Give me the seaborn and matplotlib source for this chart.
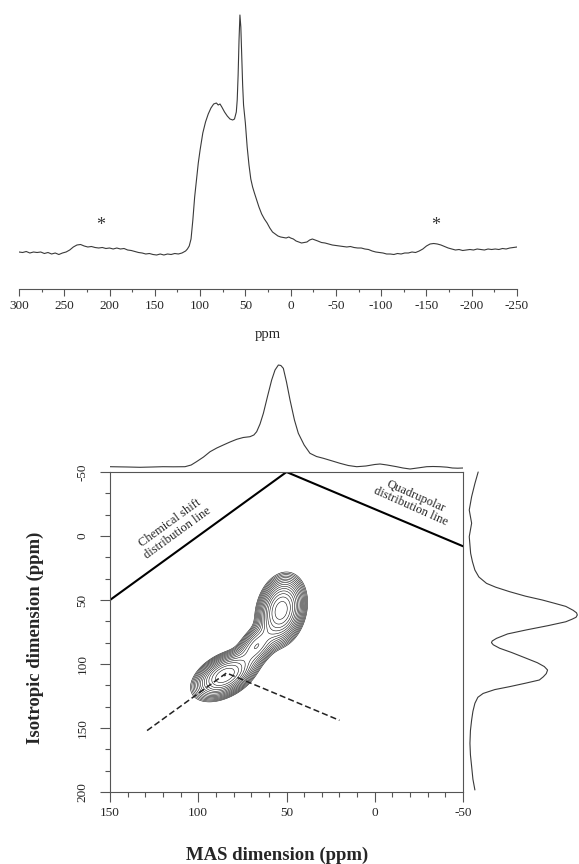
import numpy as np
import matplotlib
matplotlib.use("Agg")
import matplotlib.pyplot as plt
import seaborn as sns
from matplotlib.ticker import MultipleLocator

# ---------------- data ----------------
# 1D MAS spectrum (ppm, height above baseline in arbitrary units)
ppm_1d = [300, 296, 292, 288, 284, 280, 276, 272, 268, 264, 260, 256, 252, 248, 244,
          240, 236, 232, 228, 224, 220, 216, 212, 208, 204, 200, 196, 192, 188, 184,
          180, 176, 172, 168, 164, 160, 156, 152, 148, 144, 140, 136, 132, 128, 124,
          120, 116, 114, 112, 110, 108, 106, 104, 102, 100, 97, 94, 91, 88, 85, 82, 80,
          78, 76, 73, 70, 67, 64, 62, 60, 59, 58, 57, 56, 55, 54, 53, 52, 50, 48, 46,
          44, 42, 40, 37.5, 35, 32, 29, 26, 23, 20, 17, 14, 11, 8, 5, 2, 0, -3, -6, -9,
          -12, -15, -18, -21, -24, -27, -30, -34, -38, -42, -46, -50, -54, -58, -62,
          -66, -70, -74, -78, -82, -86, -90, -94, -98, -102, -106, -110, -114, -118,
          -122, -126, -130, -134, -138, -142, -146, -150, -154, -158, -162, -166, -170,
          -174, -178, -182, -186, -190, -194, -198, -202, -206, -210, -214, -218, -222,
          -226, -230, -234, -238, -242, -246, -250]
int_1d = [3, 2.5, 3.5, 2, 3, 2.5, 3, 1.5, 2.5, 1, 2, 0.5, 2, 3, 5,
          8, 10, 10.5, 9, 8, 8.5, 7.5, 7, 7.5, 6.5, 7, 6, 7, 6, 6.5,
          5, 4.5, 3.5, 2.5, 2, 1, 1.5, 0.5, 0, 1, 0, 1, 0.5, 1.5, 1,
          2, 4, 6, 9, 16, 35, 58, 75, 92, 105, 122, 133, 141, 147, 151, 152, 150,
          151, 148, 143, 139, 136, 135, 136, 143, 155, 180, 215, 240, 228, 200, 170,
          150, 132, 108, 90, 76, 68, 62, 55, 48, 41, 36, 32, 27, 23, 21, 19, 18, 17.5,
          17, 18, 17, 16, 14, 13, 12, 12.5, 13, 15, 16, 15, 14, 12.5, 12, 11, 10, 9.5,
          9, 8.5, 8, 8.5, 7.5, 7, 7, 6, 5.5, 4, 3, 2.5, 2, 1, 1, 0.5, 1.5, 1, 2, 2, 3,
          2.5, 4, 6, 9, 11, 11.5, 11, 10, 8.5, 7, 6, 5, 5.5, 4.5, 5, 5.5, 5, 6, 5.5, 5,
          6, 5.5, 6, 5.5, 6.5, 6, 7, 7.5, 8]
sideband_ppm = [210, -160]

# projection on top of the 2D plot (MAS dimension)
top_proj_ppm = [150, 140, 133, 126, 120, 114, 107.5, 104, 101, 97, 93.3, 89.5, 85.8,
                82, 78.2, 74.5, 70.7, 68.5, 66.9, 65, 63.1, 60.7, 58.4, 56.5, 54.6,
                53.2, 51.8, 50, 48, 45.5, 43.3, 40, 36.7, 33, 29.1, 24, 19.7, 15, 10.2,
                5, 0, -3, -7, -12.4, -16, -20, -25, -29.4, -33, -37, -41, -44, -47, -50]
top_proj_int = [5.3, 5, 4.7, 5, 5.3, 5.2, 5.3, 7, 10.3, 15, 20.3, 24, 27,
                30, 32.7, 34.5, 35.3, 37, 40.3, 48, 58.7, 76, 92, 102, 107,
                106.5, 103.7, 90, 72, 52, 38.7, 27, 18.7, 15.5, 13.7, 11, 8.7, 6.5, 5.3,
                6, 7.5, 8, 7, 5.3, 4, 3, 4.2, 5.3, 5.5, 5.3, 4.8, 4, 3.8, 4]

# projection on the right of the 2D plot (isotropic dimension)
side_proj_ppm = [-50, -41, -30.7, -20.3, -10, 0.5, 13.5, 20, 26.6, 32, 37, 40, 43.5,
                 47, 50, 52.5, 55, 58, 60, 61.7, 63.5, 65, 67, 70, 73.4, 76.5, 80, 82,
                 83.3, 85, 87.7, 91, 95.5, 99, 102, 104.7, 107.5, 110, 112.5, 115,
                 117.7, 120, 123, 126, 130.7, 137, 143.8, 152, 162, 171, 180, 190, 198.4]
side_proj_int = [15.3, 12, 8.7, 6.3, 8.7, 6.3, 7.7, 9.5, 12, 16, 23.7, 33, 47,
                 63, 80, 92, 103.7, 111, 114.5, 115.3, 114, 110, 103.7, 86, 63.7, 45,
                 33.7, 29.5, 28.7, 30.5, 37, 49, 63.7, 75, 82, 85.3, 84, 81, 77, 63,
                 47, 32, 20.3, 15, 12, 10, 8.7, 7.5, 7, 7.5, 8.7, 10, 12]

# 2D correlation peaks (MAS ppm, isotropic ppm, widths, tilt, amplitude)
peak_mas = [53, 85, 67]
peak_iso = [58, 109, 86]
peak_sig_mas = [6.0, 8.0, 6.0]
peak_sig_iso = [12.0, 8.5, 9.0]
peak_rho = [0.2, 0.45, 0.5]
peak_amp = [1.0, 0.85, 0.35]

# distribution lines
cs_line_mas = [150, 50]
cs_line_iso = [50, -50]
quad_line_mas = [50, -50]
quad_line_iso = [-50, 8]
dash_mas = [129, 84, 20]
dash_iso = [152, 107, 144]

# ---------------- figure ----------------
sns.set_style("ticks")
plt.rcParams['font.family'] = ['Liberation Serif', 'DejaVu Serif']
plt.rcParams['axes.unicode_minus'] = False

W, H = 579, 864
fig = plt.figure(figsize=(W / 100, H / 100), dpi=100)


def px_axes(left, top, right, bottom):
    return fig.add_axes([left / W, 1 - bottom / H, (right - left) / W, (bottom - top) / H])


spine_col = '#555555'
line_col = '#3a3a3a'

# ---- top: 1D spectrum ----
ax1 = px_axes(19, 5, 517, 289)
sns.lineplot(x=ppm_1d, y=int_1d, sort=False, estimator=None, color=line_col,
             lw=0.8, ax=ax1)
ax1.set_xlim(300, -250)
ax1.set_ylim(-34, 250)
for s in ['left', 'top', 'right']:
    ax1.spines[s].set_visible(False)
ax1.spines['bottom'].set_color(spine_col)
ax1.spines['bottom'].set_linewidth(0.8)
ax1.set_yticks([])
ax1.xaxis.set_major_locator(MultipleLocator(50))
ax1.xaxis.set_minor_locator(MultipleLocator(25))
ax1.tick_params(axis='x', which='major', length=4.7, width=0.8, pad=3,
                labelsize=9.5, color=spine_col)
ax1.tick_params(axis='x', which='minor', length=2.2, width=0.8, color=spine_col)
ax1.set(xlabel='', ylabel='')
ax1.patch.set_alpha(0)
for p in sideband_ppm:
    ax1.text(p, 30, '*', ha='center', va='center', fontsize=13, color='#333333')
fig.text(268 / W, 1 - 335 / H, 'ppm', ha='center', va='center', fontsize=10.5)

# ---- bottom: 2D contour plot ----
ax2 = px_axes(110, 472, 463, 792)
gx = np.linspace(150, -50, 401)
gy = np.linspace(-50, 200, 501)
GX, GY = np.meshgrid(gx, gy)
Z = np.zeros_like(GX)
for mx, my, sx, sy, r, a in zip(peak_mas, peak_iso, peak_sig_mas, peak_sig_iso,
                                peak_rho, peak_amp):
    u = (GX - mx) / sx
    v = (GY - my) / sy
    Z += a * np.exp(-(u * u - 2 * r * u * v + v * v) / (2 * (1 - r * r)))
levels = np.geomspace(0.045, 0.85, 15)
ax2.contour(GX, GY, Z, levels=levels, colors='#111111', linewidths=0.4)

sns.lineplot(x=cs_line_mas, y=cs_line_iso, sort=False, estimator=None,
             color='black', lw=1.5, ax=ax2)
sns.lineplot(x=quad_line_mas, y=quad_line_iso, sort=False, estimator=None,
             color='black', lw=1.5, ax=ax2)
sns.lineplot(x=dash_mas, y=dash_iso, sort=False, estimator=None,
             color='#222222', lw=1.1, linestyle=(0, (4, 2)), ax=ax2)

ax2.text(114, -6, 'Chemical shift\ndistribution line', rotation=36,
         rotation_mode='anchor', ha='center', va='center', multialignment='center',
         fontsize=9, linespacing=1.0)
ax2.text(-22, -27, 'Quadrupolar\ndistribution line', rotation=-24,
         rotation_mode='anchor', ha='center', va='center', multialignment='center',
         fontsize=9, linespacing=1.0)

ax2.set_xlim(150, -50)
ax2.set_ylim(200, -50)
for s in ax2.spines.values():
    s.set_color(spine_col)
    s.set_linewidth(0.8)
ax2.xaxis.set_major_locator(MultipleLocator(50))
ax2.xaxis.set_minor_locator(MultipleLocator(10))
ax2.yaxis.set_major_locator(MultipleLocator(50))
ax2.yaxis.set_minor_locator(MultipleLocator(50 / 3))
ax2.tick_params(which='major', length=7, width=0.8, labelsize=9.5, color=spine_col)
ax2.tick_params(which='minor', length=3.8, width=0.8, color=spine_col)
ax2.tick_params(axis='x', pad=4)
ax2.tick_params(axis='y', pad=8.5)
plt.setp(ax2.get_yticklabels(), rotation=90, va='center')
ax2.set(xlabel='', ylabel='')

# projections
ax3 = px_axes(110, 355, 463, 472)
sns.lineplot(x=top_proj_ppm, y=top_proj_int, sort=False, estimator=None,
             color=line_col, lw=0.8, ax=ax3)
ax3.set_xlim(150, -50)
ax3.set_ylim(0, 117)
ax3.axis('off')

ax4 = px_axes(463, 472, 579, 792)
sns.lineplot(x=side_proj_int, y=side_proj_ppm, sort=False, estimator=None,
             orient='y', color=line_col, lw=0.8, ax=ax4)
ax4.set_xlim(0, 117)
ax4.set_ylim(200, -50)
ax4.axis('off')
for ln in ax4.lines:
    ln.set_clip_on(False)

fig.text(277 / W, 1 - 855 / H, 'MAS dimension (ppm)', ha='center', va='center',
         fontsize=13.5, fontweight='bold')
fig.text(35 / W, 1 - 638 / H, 'Isotropic dimension (ppm)', ha='center', va='center',
         rotation=90, fontsize=13.5, fontweight='bold')

fig.savefig('out.png', dpi=100, facecolor='white')
